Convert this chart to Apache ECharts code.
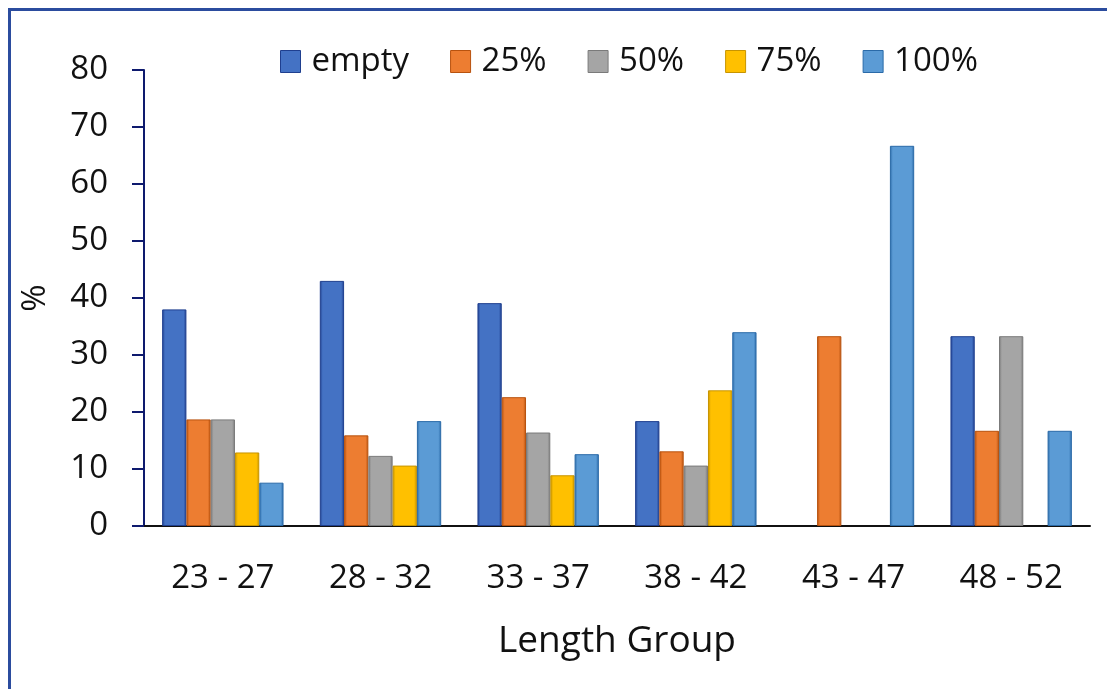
<!DOCTYPE html>
<html>
<head>
<meta charset="utf-8">
<script src="https://cdn.jsdelivr.net/npm/echarts@6/dist/echarts.min.js"></script>
<style>
  html, body { margin: 0; padding: 0; background: #fff; }
  #chart { width: 1107px; height: 689px; }
</style>
</head>
<body>
<div id="chart"></div>
<script>
// Length groups on the x axis
const categories = ['23 - 27', '28 - 32', '33 - 37', '38 - 42', '43 - 47', '48 - 52'];

// Share (%) of each fullness class per length group
const seriesNames = ['empty', '25%', '50%', '75%', '100%'];
const emptyValues = [38.0, 43.0, 39.1, 18.4, 0, 33.3];
const pct25Values = [18.7, 15.9, 22.6, 13.1, 33.3, 16.7];
const pct50Values = [18.7, 12.3, 16.4, 10.6, 0, 33.3];
const pct75Values = [12.9, 10.6, 8.9, 23.8, 0, 0];
const pct100Values = [7.6, 18.4, 12.6, 34.0, 66.7, 16.7];

const yTicks = { min: 0, max: 80, interval: 10 };

const allValues = [emptyValues, pct25Values, pct50Values, pct75Values, pct100Values];
const fills = ['#4472C4', '#ED7D31', '#A5A5A5', '#FFC000', '#5B9BD5'];
const edges = ['#1F3F8F', '#B8520E', '#7A7A7A', '#C79400', '#2A6AA8'];

const FONT = '"Open Sans", "DejaVu Sans", sans-serif';

function barFill(i) {
  return new echarts.graphic.LinearGradient(0, 0, 1, 0, [
    { offset: 0, color: edges[i] },
    { offset: 0.12, color: fills[i] },
    { offset: 0.88, color: fills[i] },
    { offset: 1, color: edges[i] }
  ]);
}

const series = seriesNames.map((name, i) => ({
  name: name,
  type: 'bar',
  barGap: '0%',
  barCategoryGap: '23%',
  itemStyle: { color: barFill(i), borderColor: edges[i], borderWidth: 1 },
  data: allValues[i].map(v => v === 0 ? { value: v, itemStyle: { borderWidth: 0 } } : v)
}));

const chart = echarts.init(document.getElementById('chart'), null, { renderer: 'canvas' });
chart.setOption({
  animation: false,
  backgroundColor: '#ffffff',
  color: fills,
  textStyle: { fontFamily: FONT },
  graphic: [{
    type: 'rect',
    silent: true,
    shape: { x: 9.5, y: 9.5, width: 1300, height: 900 },
    style: { fill: 'none', stroke: '#2B4C9E', lineWidth: 3 }
  }],
  legend: {
    top: 40,
    left: 275,
    icon: 'rect',
    itemWidth: 20,
    itemHeight: 22,
    itemGap: 41,
    data: seriesNames.map((n, i) => ({
      name: n,
      itemStyle: { color: fills[i], borderColor: edges[i], borderWidth: 1 }
    })),
    textStyle: { fontSize: 33, color: '#111', fontFamily: FONT, padding: [0, 0, 0, 6] }
  },
  grid: { left: 144, right: 17, top: 70, bottom: 163 },
  xAxis: {
    type: 'category',
    data: categories,
    name: 'Length Group',
    nameLocation: 'middle',
    nameGap: 97,
    nameTextStyle: { fontSize: 37, color: '#111', fontFamily: FONT },
    axisLine: { lineStyle: { color: '#111', width: 2 } },
    axisTick: { show: false },
    axisLabel: { fontSize: 33, color: '#111', margin: 36, fontFamily: FONT }
  },
  yAxis: {
    type: 'value',
    min: yTicks.min,
    max: yTicks.max,
    interval: yTicks.interval,
    name: '%',
    nameLocation: 'middle',
    nameRotate: 90,
    nameGap: 92,
    nameTextStyle: { fontSize: 33, color: '#111', fontFamily: FONT },
    axisLine: { show: true, lineStyle: { color: '#0E1A6E', width: 2 } },
    axisTick: { show: true, length: 12, lineStyle: { color: '#0E1A6E', width: 2 } },
    axisLabel: { fontSize: 33, color: '#111', margin: 36, fontFamily: FONT },
    splitLine: { show: false }
  },
  series: series
});
</script>
</body>
</html>
